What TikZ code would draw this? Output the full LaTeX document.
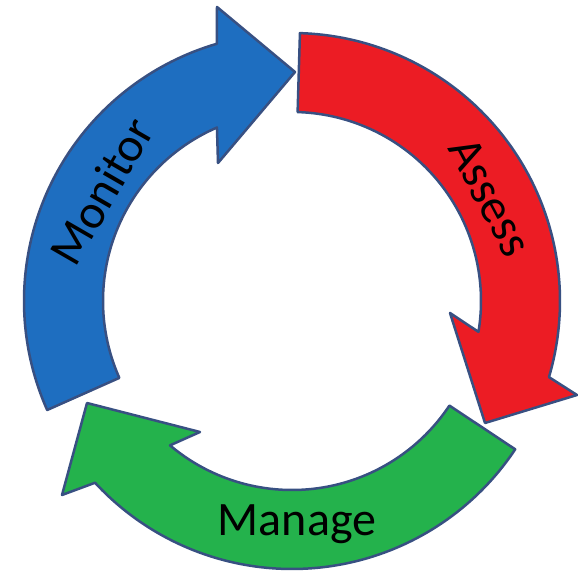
\documentclass[tikz,border=0pt]{standalone}
\usepackage{fontspec}
\setmainfont{Carlito}
\definecolor{cblue}{RGB}{30,110,192}
\definecolor{cred}{RGB}{236,28,36}
\definecolor{cgreen}{RGB}{36,178,76}
\definecolor{edgecol}{RGB}{56,80,130}
\tikzset{
  arrowshape/.style={draw=edgecol, line width=2.5pt, line join=round},
  lbl/.style={font=\fontsize{48}{48}\selectfont, text=black, inner sep=0pt}
}
\begin{document}
\begin{tikzpicture}[x=1pt,y=1pt]
\useasboundingbox (0,0) rectangle (578,574);
\begin{scope}[shift={(292,273)}]
% Monitor (blue)
\path[arrowshape, fill=cblue] (204:189) -- (204:268)
  arc[start angle=204, end angle=106.3, radius=268]
  -- (-75,294) -- (3,229) -- (-74,138) -- (113.4:189)
  arc[start angle=113.4, end angle=204, radius=189] -- cycle;
% Assess (red)
\path[arrowshape, fill=cred] (88.3:189) -- (88.3:268)
  arc[start angle=88.3, end angle=-16.5, radius=268]
  -- (285,-94) -- (193,-122) -- (158,-12) -- (-9.4:189)
  arc[start angle=-9.4, end angle=88.3, radius=189] -- cycle;
% Manage (green)
\path[arrowshape, fill=cgreen] (-33.6:190) -- (-33.6:268)
  arc[start angle=-33.6, end angle=-137.3, radius=268]
  -- (-230,-194) -- (-205,-102) -- (-92,-131) -- (-130.2:189)
  arc[start angle=-130.2, end angle=-33.6, radius=189] -- cycle;
\node[lbl, rotate=60] (mon) at (150:220) {Monitor};
\node[lbl, rotate=-62] (ass) at (27.7:224) {Assess};
\node[lbl, anchor=base] (man) at (5,-234) {Manage};
\end{scope}
\end{tikzpicture}
\end{document}
